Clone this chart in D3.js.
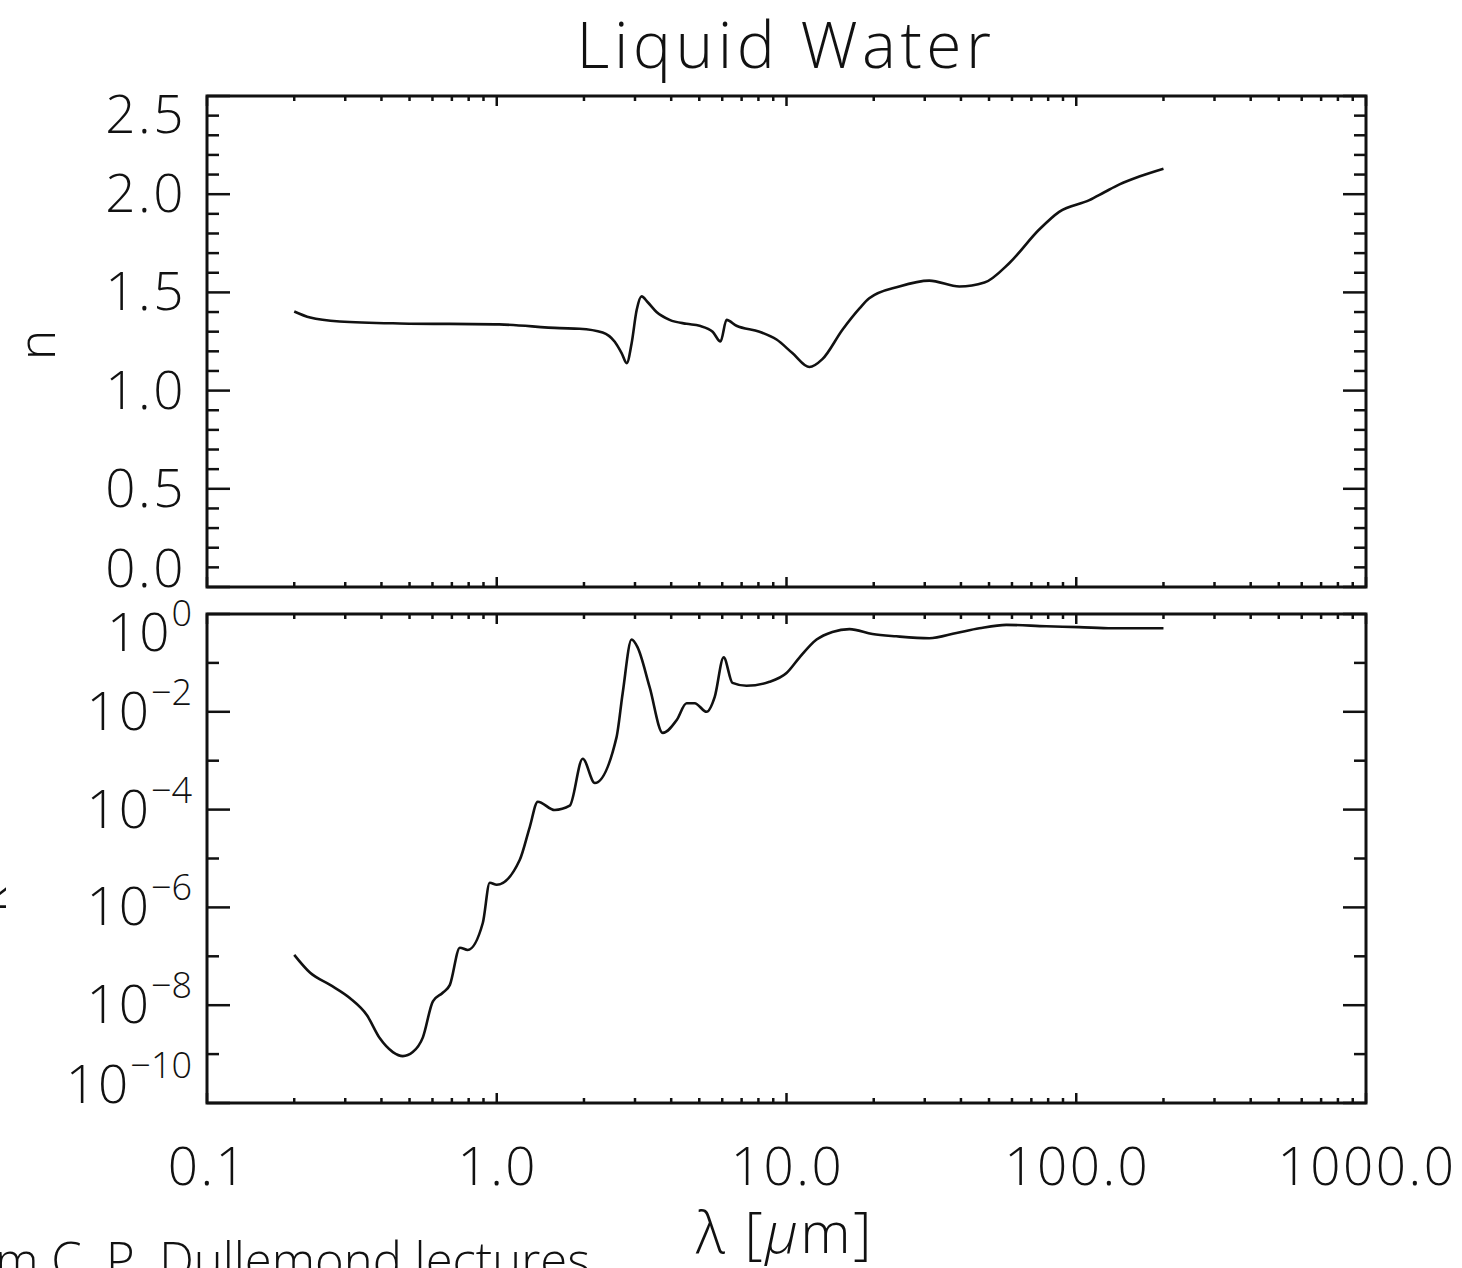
<!DOCTYPE html>
<html>
<head>
<meta charset="utf-8">
<script src="https://cdn.jsdelivr.net/npm/d3@7"></script>
<style>
  body { margin: 0; background: #fff; }
  svg text { font-family: "Open Sans", "Liberation Sans", sans-serif; font-weight: 300; fill: #111; }
</style>
</head>
<body>
<div id="chart"></div>
<script>
// data (wavelength in micron)
const nWavelength = [0.2, 0.227, 0.287, 0.463, 1.02, 1.65, 1.93, 2.32, 2.55, 2.70, 2.81, 2.92, 3.04, 3.16, 3.32, 3.56, 3.95, 4.52, 5.01, 5.56, 5.92, 6.21, 6.72, 8.07, 9.24, 10.5, 12.0, 13.3, 15.6, 17.9, 19.3, 24.5, 31.1, 39.5, 48.2, 58.8, 74.5, 87.3, 111, 125, 141, 165, 200];
const nValues = [1.403, 1.372, 1.352, 1.342, 1.337, 1.318, 1.315, 1.296, 1.25, 1.19, 1.14, 1.24, 1.41, 1.48, 1.45, 1.40, 1.36, 1.34, 1.33, 1.30, 1.25, 1.36, 1.33, 1.30, 1.26, 1.19, 1.12, 1.16, 1.31, 1.42, 1.47, 1.53, 1.56, 1.53, 1.55, 1.65, 1.82, 1.91, 1.97, 2.01, 2.05, 2.09, 2.13];

const kWavelength = [0.2, 0.227, 0.266, 0.311, 0.356, 0.395, 0.438, 0.474, 0.513, 0.556, 0.602, 0.651, 0.689, 0.746, 0.794, 0.895, 0.946, 1.0, 1.20, 1.30, 1.385, 1.585, 1.786, 1.98, 2.18, 2.59, 2.72, 2.92, 3.06, 3.37, 3.74, 4.18, 4.52, 4.82, 5.30, 5.65, 6.07, 6.51, 7.28, 8.74, 10.0, 11.1, 12.7, 14.4, 16.5, 19.8, 23.9, 31.1, 38.6, 46.3, 57.4, 78.8, 102, 133, 200];
const kValues = [1.07e-7, 4.6e-8, 2.6e-8, 1.4e-8, 6.3e-9, 2.1e-9, 1.1e-9, 9.1e-10, 1.1e-9, 2.2e-9, 1.2e-8, 1.8e-8, 2.6e-8, 1.5e-7, 1.35e-7, 4.8e-7, 3.2e-6, 2.9e-6, 9.3e-6, 4.4e-5, 1.45e-4, 9.8e-5, 1.2e-4, 1.1e-3, 3.5e-4, 3.0e-3, 2.4e-2, 0.30, 0.21, 3.2e-2, 3.7e-3, 6.8e-3, 1.5e-2, 1.5e-2, 1.0e-2, 2.0e-2, 0.13, 3.9e-2, 3.4e-2, 4.1e-2, 6.2e-2, 0.13, 0.30, 0.43, 0.49, 0.39, 0.35, 0.32, 0.41, 0.51, 0.60, 0.56, 0.54, 0.51, 0.51];

const xTickValues = [0.1, 1, 10, 100, 1000];
const xTickLabels = ["0.1", "1.0", "10.0", "100.0", "1000.0"];
const nTickValues = [0, 0.5, 1.0, 1.5, 2.0, 2.5];
const nTickLabels = ["0.0", "0.5", "1.0", "1.5", "2.0", "2.5"];
const kTickExponents = [0, -2, -4, -6, -8, -10];

const W = 1462, H = 1268;
const left = 207, right = 1366;
const top1 = 96, bot1 = 587, top2 = 614, bot2 = 1103;

const svg = d3.select("#chart").append("svg")
  .attr("width", W).attr("height", H);

const x = d3.scaleLog().domain([0.1, 1000]).range([left, right]);
const yN = d3.scaleLinear().domain([0, 2.5]).range([bot1, top1]);
const yK = d3.scaleLog().domain([1e-10, 1]).range([bot2, top2]);

const minorX = x.ticks().filter(v => !xTickValues.some(t => Math.abs(t - v) < 1e-9));

function frame(yTop, yBot, yScale, majorY, minorY) {
  const g = svg.append("g");
  // x ticks top & bottom, pointing inward
  [[yTop, 1], [yBot, -1]].forEach(([y0, dir]) => {
    g.selectAll(null).data(xTickValues).enter().append("line")
      .attr("x1", d => x(d)).attr("x2", d => x(d))
      .attr("y1", y0).attr("y2", y0 + dir * 10)
      .attr("stroke", "#111").attr("stroke-width", 2.5);
    g.selectAll(null).data(minorX).enter().append("line")
      .attr("x1", d => x(d)).attr("x2", d => x(d))
      .attr("y1", y0).attr("y2", y0 + dir * 5)
      .attr("stroke", "#111").attr("stroke-width", 2.5);
  });
  // y ticks left & right
  [[left, 1], [right, -1]].forEach(([x0, dir]) => {
    g.selectAll(null).data(majorY).enter().append("line")
      .attr("x1", x0).attr("x2", x0 + dir * 23)
      .attr("y1", d => yScale(d)).attr("y2", d => yScale(d))
      .attr("stroke", "#111").attr("stroke-width", 2.5);
    g.selectAll(null).data(minorY).enter().append("line")
      .attr("x1", x0).attr("x2", x0 + dir * 12)
      .attr("y1", d => yScale(d)).attr("y2", d => yScale(d))
      .attr("stroke", "#111").attr("stroke-width", 2.5);
  });
  g.append("rect")
    .attr("x", left).attr("y", yTop)
    .attr("width", right - left).attr("height", yBot - yTop)
    .attr("fill", "none").attr("stroke", "#111").attr("stroke-width", 3);
  return g;
}

// top panel: n
const nMinor = d3.range(0, 26).map(i => i / 10).filter(v => Math.abs(v * 2 - Math.round(v * 2)) > 1e-6);
frame(top1, bot1, yN, nTickValues, nMinor);

const clampY = (y, a, b) => Math.max(a + 19, Math.min(b - 18, y));

svg.append("g").selectAll("text").data(nTickValues).enter().append("text")
  .attr("x", 186)
  .attr("y", (d, i) => clampY(yN(d), top1, bot1) + 18)
  .attr("text-anchor", "end")
  .attr("font-size", 53)
  .attr("letter-spacing", 2.5)
  .text((d, i) => nTickLabels[i]);

svg.append("path")
  .datum(nWavelength.map((w, i) => [w, nValues[i]]))
  .attr("d", d3.line().x(d => x(d[0])).y(d => yN(d[1])).curve(d3.curveMonotoneX))
  .attr("fill", "none").attr("stroke", "#111").attr("stroke-width", 2.6);

// bottom panel: k
const kMajor = kTickExponents.map(e => Math.pow(10, e));
const kMinor = [-1, -3, -5, -7, -9].map(e => Math.pow(10, e));
frame(top2, bot2, yK, kMajor, kMinor);

const kLabels = svg.append("g").selectAll("text").data(kTickExponents).enter().append("text")
  .attr("x", 192)
  .attr("y", d => clampY(yK(Math.pow(10, d)), top2, bot2) + 18)
  .attr("text-anchor", "end");
kLabels.append("tspan").attr("font-size", 53).attr("letter-spacing", 2).text("10");
kLabels.append("tspan").attr("font-size", 36).attr("dy", -25)
  .text(d => d === 0 ? "0" : "\u2212" + Math.abs(d));

svg.append("path")
  .datum(kWavelength.map((w, i) => [w, kValues[i]]))
  .attr("d", d3.line().x(d => x(d[0])).y(d => yK(d[1])).curve(d3.curveMonotoneX))
  .attr("fill", "none").attr("stroke", "#111").attr("stroke-width", 2.6);

// x tick labels
svg.append("g").selectAll("text").data(xTickValues).enter().append("text")
  .attr("x", d => x(d) + 1)
  .attr("y", 1185)
  .attr("text-anchor", "middle")
  .attr("font-size", 53)
  .attr("letter-spacing", 2.5)
  .text((d, i) => xTickLabels[i]);

// titles
svg.append("text")
  .attr("x", 786).attr("y", 68)
  .attr("text-anchor", "middle")
  .attr("font-size", 64)
  .attr("letter-spacing", 4.5)
  .text("Liquid Water");

const xl = svg.append("text")
  .attr("x", 785).attr("y", 1253)
  .attr("text-anchor", "middle")
  .attr("font-size", 57)
  .attr("letter-spacing", 2.5);
xl.append("tspan").text("\u03bb [");
xl.append("tspan").attr("font-style", "italic").text("\u03bc");
xl.append("tspan").text("m]");

svg.append("text")
  .attr("transform", "translate(55,345) rotate(-90)")
  .attr("text-anchor", "middle")
  .attr("font-size", 52)
  .text("n");

svg.append("text")
  .attr("transform", "translate(6,900) rotate(-90)")
  .attr("text-anchor", "middle")
  .attr("font-size", 52)
  .text("k");

// source note, cut at the left edge like the original
svg.append("text")
  .attr("x", 590).attr("y", 1278)
  .attr("text-anchor", "end")
  .attr("font-size", 49)
  .text("From C. P. Dullemond lectures");
</script>
</body>
</html>
